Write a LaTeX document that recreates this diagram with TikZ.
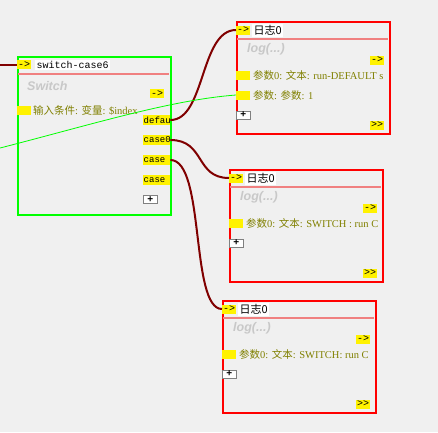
\documentclass[tikz,border=0pt]{standalone}
\usepackage{fontspec}
\setmainfont{Liberation Serif}
\setsansfont{Liberation Sans}
\setmonofont{Liberation Mono}
\newfontfamily\cjk{Noto Sans CJK SC}
\usetikzlibrary{positioning}

\definecolor{panel}{RGB}{240,240,240}
\definecolor{wirered}{RGB}{128,0,0}
\definecolor{paramtext}{RGB}{128,128,0}
\definecolor{divider}{RGB}{240,128,128}
\definecolor{ghost}{RGB}{200,200,200}
\definecolor{swgreen}{RGB}{0,255,0}

\tikzset{
  block/.style={draw, line width=2pt, fill=panel, anchor=north west, inner sep=0pt, minimum width=153pt, minimum height=#1},
  tag/.style={fill=yellow, anchor=west, inner sep=0pt, minimum width=14pt, minimum height=9pt, font=\ttfamily\fontsize{10}{9}\selectfont},
  port/.style={fill=yellow, anchor=west, inner xsep=0.5pt, inner ysep=0pt, text width=26pt, minimum height=10pt, align=left, font=\ttfamily\fontsize{9}{9}\selectfont},
  title/.style={fill=white, anchor=west, inner sep=1.5pt},
  param/.style={anchor=west, inner sep=0pt, text=paramtext, font=\fontsize{10.5}{11}\selectfont},
  ghosttext/.style={anchor=west, inner sep=0pt, text=ghost, font=\sffamily\bfseries\itshape\fontsize{12.5}{12}\selectfont},
  plusbtn/.style={fill=white, draw=gray, anchor=west, inner sep=0pt, minimum width=14pt, minimum height=8pt, font=\sffamily\bfseries\fontsize{10}{8}\selectfont},
  wire/.style={draw=wirered, line width=2pt},
}

\begin{document}
\begin{tikzpicture}[x=1pt,y=-1pt]
  \fill[panel] (0,0) rectangle (438,432);
  \useasboundingbox (0,0) rectangle (438,432);
  \coordinate (in0) at (0,64.5);
  \coordinate (gsrc) at (0,148);

  % switch block
  \node[block=158pt, draw=swgreen] (sw) at (17,56) {};
  \draw[divider, line width=1.5pt] (18,74) -- (169,74);
  \node[tag] (sw-in) at (17,64.5) {->};
  \node[title] (sw-name) at (35,65) {\ttfamily\fontsize{10}{10}\selectfont switch-case6};
  \node[ghosttext] (sw-kind) at (27,86) {Switch};
  \node[tag] (sw-out) at (150,93.5) {->};
  \node[tag] (sw-cond) at (17,110) {};
  \node[param] (sw-cond-txt) at (33,110) {{\cjk 输入条件}: {\cjk 变量}: \$index};
  \node[port] (sw-def) at (143,120) {defau};
  \node[port] (sw-c0) at (143,140) {case0};
  \node[port] (sw-c1) at (143,160) {case};
  \node[port] (sw-c2) at (143,180) {case};
  \node[plusbtn] (sw-add) at (143,199.5) {+};

  % log blocks
  \foreach \n/\x/\y/\t/\b in {log1/236/21/{run-DEFAULT s}/94, log2/229/169/{SWITCH : run C}/74, log3/222/300/{SWITCH: run C}/74}{
    \node[block=112pt, draw=red] (\n) at (\x,\y) {};
    \draw[divider, line width=1.5pt] (\x+1,\y+18) -- (\x+152,\y+18);
    \node[tag] (\n-in) at (\x,\y+9) {->};
    \node[title] (\n-name) at (\x+16,\y+9.5) {\cjk\fontsize{11}{11}\selectfont 日志0};
    \node[ghosttext] (\n-kind) at (\x+11,\y+28) {log(...)};
    \node[tag] (\n-out) at (\x+134,\y+39) {->};
    \node[tag] (\n-p1) at (\x,\y+54) {};
    \begin{scope}
      \clip (\x,\y) rectangle (\x+152,\y+112);
      \node[param] (\n-p1-txt) at (\x+17,\y+54) {{\cjk 参数}0: {\cjk 文本}: \t};
    \end{scope}
    \node[plusbtn] (\n-add) at (\x,\y+\b) {+};
    \node[tag] (\n-next) at (\x+134,\y+104) {>{}>};
  }
  \node[tag] (log1-p2) at (236,95) {};
  \node[param] (log1-p2-txt) at (253,95) {{\cjk 参数}: {\cjk 参数}: 1};

  % wires
  \path[wire] (in0) -- (sw-in.west);
  \path[wire] (sw-def.east) .. controls +(35,0) and +(-36,0) .. (log1-in.west);
  \path[wire] (sw-c0.east) .. controls +(35,0) and +(-34,0) .. (log2-in.west);
  \path[wire] (sw-c1.east) .. controls +(35,0) and +(-32,0) .. (log3-in.west);
  \draw[swgreen, line width=0.8pt] (gsrc) .. controls (90,125) and (170,100) .. (log1-p2.west);
\end{tikzpicture}
\end{document}
